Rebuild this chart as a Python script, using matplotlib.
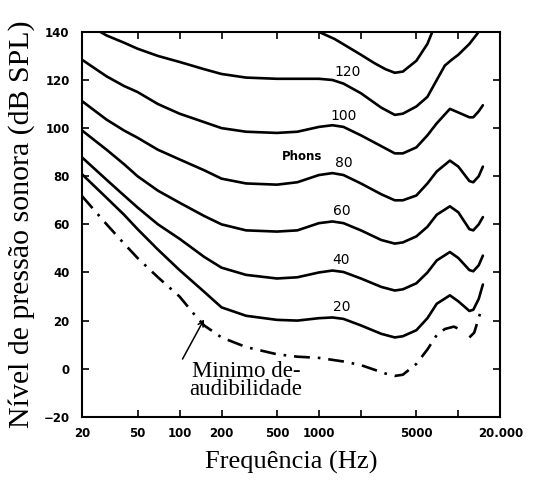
import numpy as np
import matplotlib
matplotlib.use("Agg")
import matplotlib.pyplot as plt

# curvas de igual audibilidade
f_140 = [1000, 1300, 2000, 2500, 3000, 3500, 4000, 5000, 6000, 6500]
db_140 = [140, 137, 130.5, 127, 124.5, 123, 123.5, 128, 135, 140]

f_120 = [27, 30, 40, 50, 70, 100, 150, 200, 300, 500, 700, 1000, 1250, 1500, 2000,
         2800, 3500, 4000, 5000, 6000, 7000, 8000, 9000, 10000, 12000, 14000]
db_120 = [140, 138.5, 135.5, 133, 130, 127.5, 124.5, 122.5, 121, 120.5, 120.5, 120.5,
          120, 118.5, 114.5, 108.5, 105.5, 106, 109, 113, 120, 126, 128.5, 130.5,
          135, 140]

f_main = [20, 30, 40, 50, 70, 100, 150, 200, 300, 500, 700, 1000, 1250, 1500, 2000,
          2800, 3500, 4000, 5000, 6000, 7000, 8700, 10000, 12000, 12800, 14000, 15000]
db_100 = [128.4, 121.5, 117.5, 115, 110, 106, 102.5, 100, 98.5, 98, 98.5, 100.5,
          101.2, 100.5, 97, 92.5, 89.5, 89.5, 92, 97, 102, 108, 106.5, 104.5, 104.5,
          107, 109.5]
db_80 = [111.2, 103.5, 99, 96, 91, 87, 82.5, 79, 77, 76.5, 77.5, 80.5, 81.3, 80.5,
         77, 72.5, 70, 70, 72, 77, 82, 86.5, 84, 78, 77.5, 80, 84]
db_60 = [99, 91, 85, 80, 74, 69, 63.5, 60, 57.5, 57, 57.5, 60.5, 61.2, 60.5, 57.5,
         53.5, 52, 52.5, 55, 59, 64, 67.5, 65, 58, 57.5, 60, 63]
db_40 = [87.8, 78.5, 72, 67, 60, 54, 46.5, 42, 39, 37.5, 38, 40, 40.8, 40.2, 37.5,
         34, 32.5, 33, 35.5, 40, 45, 48.5, 46, 41, 40.5, 43, 47]
db_20 = [80.8, 71, 64, 58, 49.5, 41, 32, 25.5, 22, 20.3, 20, 21, 21.3, 20.7, 18,
         14.5, 13, 13.5, 16, 21, 27, 30.5, 28, 24, 24.5, 29, 35]

f_min = [20, 30, 40, 50, 70, 100, 130, 150, 200, 300, 500, 700, 1000, 1500, 2000,
         3000, 3500, 4000, 5000, 6000, 7000, 8000, 9300, 10500, 11300, 12000, 13000,
         14500]
db_min = [71.7, 60, 52, 46, 38, 30, 22, 18, 13, 9, 6, 5, 4.5, 3, 1.5,
          -2, -3, -2.5, 2, 8, 14, 16.5, 17.5, 16, np.nan, 13, 15, 24]

phon_labels = ["120", "100", "80", "60", "40", "20"]
phon_label_f = [1600, 1500, 1500, 1450, 1450, 1450]
phon_label_db = [123.5, 105, 85.5, 65.5, 45, 25.5]

xtick_vals = [20, 50, 100, 200, 500, 1000, 5000, 20000]
xtick_labels = ["20", "50", "100", "200", "500", "1000", "5000", "20.000"]
xtick_minor = [2000, 10000]
ytick_vals = [140, 120, 100, 80, 60, 40, 20, 0, -20]

fig = plt.figure(figsize=(5.51, 4.83), dpi=100)
ax = fig.add_axes([0.149, 0.137, 0.759, 0.797])

lw = 1.9
for f, d in [(f_140, db_140), (f_120, db_120), (f_main, db_100), (f_main, db_80),
             (f_main, db_60), (f_main, db_40), (f_main, db_20)]:
    ax.plot(f, d, color="black", lw=lw, solid_capstyle="round",
            solid_joinstyle="round")
ax.plot(f_min, db_min, color="black", lw=lw, linestyle=(0, (6, 3, 1, 3)))

ax.set_xscale("log")
ax.set_xlim(20, 20000)
ax.set_ylim(-20, 140)

ax.set_xticks(xtick_vals)
ax.set_xticklabels(xtick_labels)
ax.set_xticks(xtick_minor, minor=True)
ax.set_xticklabels([], minor=True)
ax.set_yticks(ytick_vals)
ax.tick_params(which="both", direction="in", top=True, right=True, length=5,
               width=1.2, labelsize=8.5)
ax.tick_params(axis="y", pad=9)
ax.tick_params(axis="x", which="both", pad=7)
for lab in ax.get_xticklabels() + ax.get_yticklabels():
    lab.set_fontweight("bold")
for s in ax.spines.values():
    s.set_linewidth(1.5)

for txt, fx, d in zip(phon_labels, phon_label_f, phon_label_db):
    ax.text(fx, d, txt, fontsize=10, ha="center", va="center")
ax.text(1050, 88, "Phons", fontsize=8.5, fontweight="bold", ha="right", va="center")

# seta e texto do limiar
ax.annotate("", xy=(150, 20.5), xytext=(105, 4),
            arrowprops=dict(arrowstyle="->", color="black", lw=1.1,
                            shrinkA=0, shrinkB=0))
ax.text(300, -5, "Minimo de-\naudibilidade", fontsize=16.5,
        family="Liberation Serif", ha="center", va="center", linespacing=0.8)

ax.set_xlabel("Frequência (Hz)", fontsize=19, family="Liberation Serif", labelpad=8)
ax.set_ylabel("Nível de pressão sonora (dB SPL)", fontsize=21.5,
              family="Liberation Serif", labelpad=6)

fig.savefig("out.png", dpi=100)
